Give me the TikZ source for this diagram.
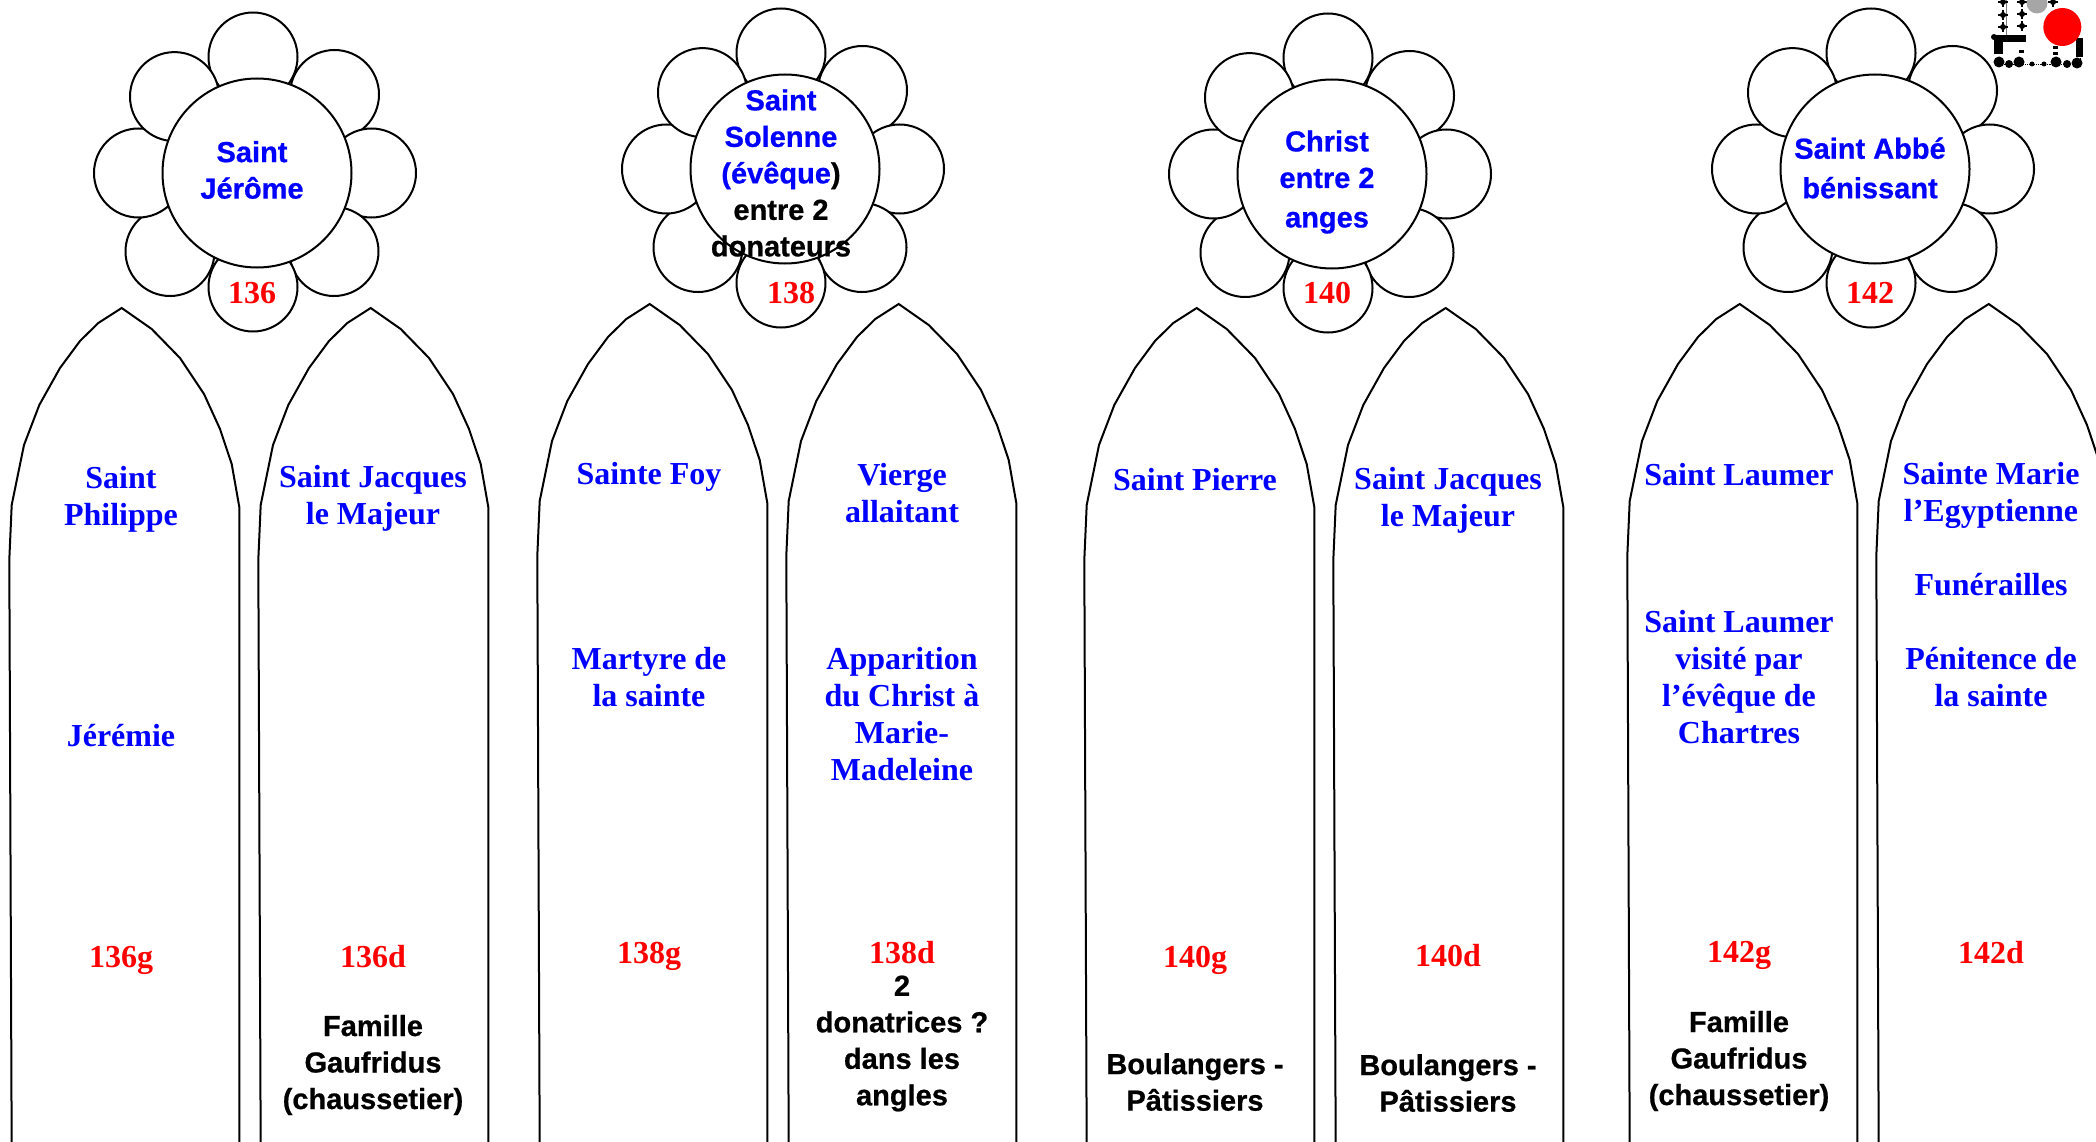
\documentclass[tikz,border=0pt]{standalone}
\usepackage{fontspec}
\setmainfont{Liberation Serif}
\setsansfont{Liberation Sans}
\newfontfamily\heavy[UprightFont={* Bold},FakeBold=0.7]{Liberation Sans}
\definecolor{vblue}{RGB}{0,0,255}
\definecolor{vred}{RGB}{255,0,0}
\tikzset{
  x=1pt,y=-1pt,
  outl/.style={draw=black,line width=2pt,fill=white},
  petal/.style={outl,circle,minimum size=89pt,inner sep=0pt},
  heart/.style={outl,circle,minimum size=189pt,inner sep=0pt},
  ser/.style={align=center,inner sep=0pt,font=\fontsize{32}{36.7}\selectfont\bfseries},
  san/.style={align=center,inner sep=0pt,font=\fontsize{29}{36.5}\selectfont\heavy},
  bluetxt/.style={ser,text=vblue},
  redtxt/.style={ser,text=vred},
  sanblue/.style={san,text=vblue},
  blacktxt/.style={san,text=black},
  plan/.style={fill=black,draw=none}
}
\newcommand{\flower}[3]{%
  \begin{scope}[shift={(#2,#3)}]
    \node[petal] (#1p1) at (253,57) {};
    \node[petal] (#1p2) at (334.5,94.5) {};
    \node[petal] (#1p3) at (371.5,173) {};
    \node[petal] (#1p4) at (334,251.5) {};
    \node[petal] (#1p5) at (253,287) {};
    \node[petal] (#1p6) at (170,251.5) {};
    \node[petal] (#1p7) at (138.5,173) {};
    \node[petal] (#1p8) at (174.5,96.6) {};
    \node[heart] (#1c) at (257,173) {};
  \end{scope}}
\newcommand{\lancet}[2]{%
  \draw[line width=2pt,line join=miter,shift={(#1,#2)}]
    (11.7,1150) -- (9.3,560) -- (11.7,505) -- (24,445) -- (39.3,405) -- (60,368) -- (80,341)
    -- (98.3,323) -- (121.7,308) -- (151.7,329) -- (180,358) -- (204,394) -- (220,429)
    -- (231.7,464) -- (239.3,507) -- (239.3,1150);}
\newcommand{\pblob}[3]{\fill[plan] (#1,#2) circle (#3);}
\newcommand{\pcross}[2]{\fill[plan] (#1-5,#2-1.2) rectangle (#1+5,#2+1.2);\fill[plan] (#1-1.2,#2-5) rectangle (#1+1.2,#2+5);\fill[plan] (#1,#2) circle (3);}
\begin{document}
\begin{tikzpicture}
\useasboundingbox (0,0) rectangle (2096,1142);
\fill[white] (0,0) rectangle (2096,1142);
\flower{a}{0}{0}
\flower{b}{528}{-4}
\flower{c}{1075}{1}
\flower{d}{1618}{-4}
\lancet{0}{0}
\lancet{249}{0}
\lancet{528}{-4}
\lancet{777}{-4}
\lancet{1075}{0}
\lancet{1324}{0}
\lancet{1618}{-4}
\lancet{1867}{-4}
\node[sanblue] (ta) at (252,170) {Saint\\Jérôme};
\node[redtxt] (na) at (252,293) {136};
\node[san] (tb) at (781,173)
  {\textcolor{vblue}{Saint}\\\textcolor{vblue}{Solenne}\\\textcolor{vblue}{(évêque})\\entre 2\\donateurs};
\node[redtxt] (nb) at (791,293) {138};
\node[sanblue] (tc) at (1327,182) {Christ\\entre 2\\[3pt]anges};
\node[redtxt] (nc) at (1327,293) {140};
\node[sanblue] (td) at (1870,168) {Saint Abbé\\[3pt]bénissant};
\node[redtxt] (nd) at (1870,293) {142};
\node[bluetxt] (g1) at (121,499) {Saint\\Philippe};
\node[bluetxt] (g2) at (121,736) {Jérémie};
\node[redtxt] (g3) at (121,960) {136g};
\node[bluetxt] (h1) at (373,498.5) {Saint Jacques\\le Majeur};
\node[redtxt] (h2) at (373,957) {136d};
\node[blacktxt] (h3) at (373,1065) {Famille\\Gaufridus\\(chaussetier)};
\node[bluetxt] (i1) at (649,477) {Sainte Foy};
\node[bluetxt] (i2) at (649,677) {Martyre de\\la sainte};
\node[redtxt] (i3) at (649,956) {138g};
\node[bluetxt] (j1) at (902,493) {Vierge\\allaitant};
\node[bluetxt] (j2) at (902,714) {Apparition\\du Christ à\\Marie-\\Madeleine};
\node[redtxt] (j3) at (902,953) {138d};
\node[blacktxt] (j4) at (902,1043.5) {2\\donatrices ?\\dans les\\angles};
\node[bluetxt] (k1) at (1195,479.5) {Saint Pierre};
\node[redtxt] (k2) at (1195,960) {140g};
\node[blacktxt] (k3) at (1195,1082) {Boulangers -\\Pâtissiers};
\node[bluetxt] (l1) at (1448,500) {Saint Jacques\\le Majeur};
\node[redtxt] (l2) at (1448,956) {140d};
\node[blacktxt] (l3) at (1448,1083) {Boulangers -\\Pâtissiers};
\node[bluetxt] (m1) at (1739,474.5) {Saint Laumer};
\node[bluetxt] (m2) at (1739,677) {Saint Laumer\\visité par\\l’évêque de\\Chartres};
\node[redtxt] (m3) at (1739,955.5) {142g};
\node[blacktxt] (m4) at (1739,1061) {Famille\\Gaufridus\\(chaussetier)};
\node[bluetxt] (n1) at (1991,495.5) {Sainte Marie\\l’Egyptienne};
\node[bluetxt] (n2) at (1991,585) {Funérailles};
\node[bluetxt] (n3) at (1991,677) {Pénitence de\\la sainte};
\node[redtxt] (n4) at (1991,953) {142d};
% plan thumbnail
\draw[gray,line width=.6pt] (2006,0) -- (2006,36);
\draw[black,line width=.8pt,densely dotted] (2000,64) -- (2080,64) (2080,64) -- (2080,40);
\pcross{2003}{2}\pcross{2003}{15}\pcross{2003}{27}
\pcross{2022}{2}\pcross{2022}{14}\pcross{2022}{26}
\pcross{2053}{2}
\fill[gray!70] (2037,3) circle (10.5);
\fill[plan] (1995,35) rectangle (2026,42);
\fill[plan] (1994,36) rectangle (2003,54);
\fill[plan] (1994,37) circle (3);
\fill[plan] (2019,50) rectangle (2024,53);
\fill[plan] (2076,38) rectangle (2083,57);
\fill[plan] (2053,46) rectangle (2058,49);
\fill[plan] (2053,52) rectangle (2058,55);
\pblob{1999}{62}{5.5}\pblob{2009}{64}{4}\pblob{2019}{62}{5.5}\pblob{2032}{64}{2.5}\pblob{2044}{64}{2.5}\pblob{2056}{62}{5.5}\pblob{2067}{64}{4}\pblob{2077}{63}{5.5}
\fill[vred] (2062.3,27) circle (19);
\end{tikzpicture}
\end{document}
